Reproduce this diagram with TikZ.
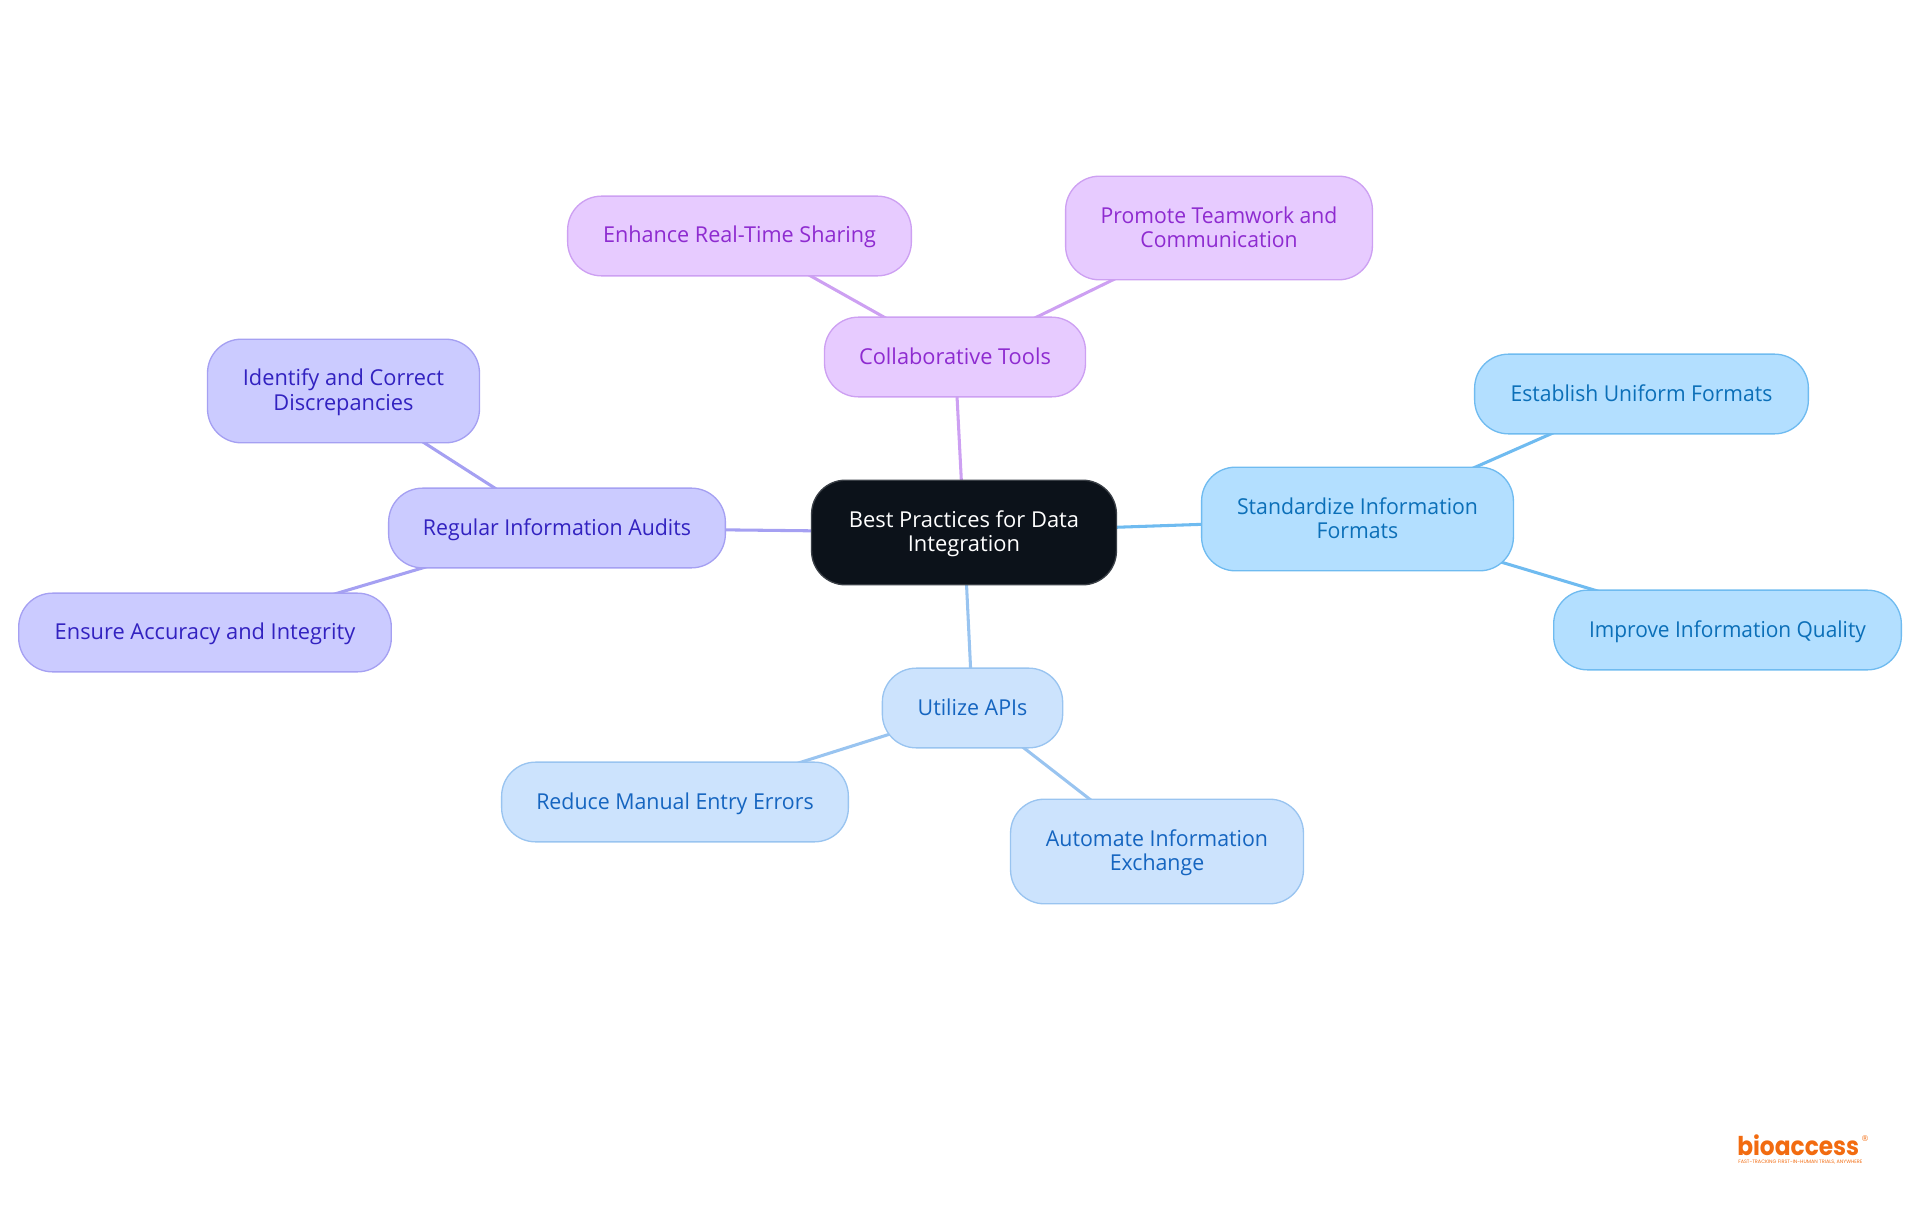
\documentclass[tikz,border=0pt]{standalone}
\usepackage{fontspec}
\setmainfont{Open Sans}
\newfontfamily\logofont{Poppins}
\newfontfamily\regfont{DejaVu Sans}
\usetikzlibrary{backgrounds}
\definecolor{cbluef}{HTML}{B3DFFF}\definecolor{cblued}{HTML}{6FBBF0}\definecolor{cbluet}{HTML}{0B6FB8}
\definecolor{lbluef}{HTML}{CCE3FD}\definecolor{lblued}{HTML}{99C4F0}\definecolor{lbluet}{HTML}{1565C0}
\definecolor{violf}{HTML}{CBCBFF}\definecolor{viold}{HTML}{A5A0F2}\definecolor{violt}{HTML}{3222C0}
\definecolor{purpf}{HTML}{E7CBFF}\definecolor{purpd}{HTML}{CDA0F2}\definecolor{purpt}{HTML}{8E2BD0}
\definecolor{rootf}{HTML}{0C121A}\definecolor{rootd}{HTML}{3A3F46}\definecolor{roott}{HTML}{FFFFFF}\definecolor{logoc}{HTML}{F26B10}
\newcommand{\mS}{\rule{0pt}{14.5pt}\rule[-3.5pt]{0pt}{3.5pt}}
\tikzset{
 px/.style={x=0.0264583cm,y=-0.0264583cm},
 mm/.style={rounded corners=25.5pt,line width=1pt,align=center,inner sep=0pt},
 conn/.style={line width=2.3pt},
}
\newcommand{\mmnode}[8]{%
 \node[mm,draw=#2d,fill=#2f,text=#2t,font=\fontsize{16.5pt}{18pt}\selectfont\addfontfeature{FakeStretch=#8},minimum width=(#5-#3)*0.75pt,minimum height=(#6-#4)*0.75pt] (#1) at ({(#3+#5)/2},{(#4+#6)/2}) {\mS #7};
}
\begin{document}
\begin{tikzpicture}[px]
\useasboundingbox (0,0) rectangle (1920,1215);
\mmnode{root}{root}{811}{480}{1117}{585}{Best Practices for Data\\\mS Integration}{1}
\mmnode{std}{cblue}{1201}{467}{1514}{571}{Standardize Information\\\mS Formats}{0.97}
\mmnode{est}{cblue}{1474}{354}{1809}{434}{Establish Uniform Formats}{0.964}
\mmnode{imp}{cblue}{1553}{590}{1902}{670}{Improve Information Quality}{0.954}
\mmnode{api}{lblue}{882}{668}{1063}{748}{Utilize APIs}{0.978}
\mmnode{red}{lblue}{501}{762}{849}{842}{Reduce Manual Entry Errors}{0.974}
\mmnode{aut}{lblue}{1010}{799}{1304}{904}{Automate Information\\\mS Exchange}{0.973}
\mmnode{reg}{viol}{388}{488}{726}{568}{Regular Information Audits}{0.973}
\mmnode{ide}{viol}{207}{339}{480}{443}{Identify and Correct\\\mS Discrepancies}{0.994}
\mmnode{ens}{viol}{18}{593}{392}{672}{Ensure Accuracy and Integrity}{0.996}
\mmnode{col}{purp}{824}{317}{1086}{397}{Collaborative Tools}{0.994}
\mmnode{enh}{purp}{567}{196}{912}{276}{Enhance Real-Time Sharing}{0.987}
\mmnode{pro}{purp}{1065}{176}{1373}{280}{Promote Teamwork and\\\mS Communication}{0.965}
\begin{scope}[on background layer]
\draw[conn,cblued] (root.center)--(std.center) (std.center)--(est.center) (std.center)--(imp.center);
\draw[conn,lblued] (root.center)--(api.center) (api.center)--(red.center) (api.center)--(aut.center);
\draw[conn,viold] (root.center)--(reg.center) (reg.center)--(ide.center) (reg.center)--(ens.center);
\draw[conn,purpd] (root.center)--(col.center) (col.center)--(enh.center) (col.center)--(pro.center);
\end{scope}
\node[text=logoc,anchor=base west,inner sep=0pt,font=\logofont\bfseries\fontsize{19.5pt}{20pt}\selectfont\addfontfeature{FakeStretch=0.9}] (logo) at (1737,1155) {bioaccess};
\node[text=logoc,anchor=center,inner sep=0pt,font=\regfont\fontsize{6pt}{7pt}\selectfont] (regmark) at (1865,1139) {®};
\node[text=logoc,anchor=base west,inner sep=0pt,font=\logofont\fontsize{3.7pt}{4pt}\selectfont] (tag) at (1738,1163.5) {FAST-TRACKING FIRST-IN-HUMAN TRIALS, ANYWHERE};
\end{tikzpicture}
\end{document}
